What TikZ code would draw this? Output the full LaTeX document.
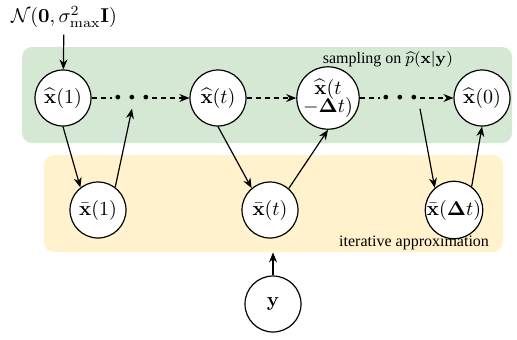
\documentclass[tikz,border=0pt]{standalone}
\usepackage[no-math]{fontspec}
\setmainfont{Liberation Serif}
\usepackage{amsmath}
\usetikzlibrary{shapes, arrows.meta, fit}
\definecolor{samplegreen}{HTML}{D5E8D4}
\definecolor{approxyellow}{HTML}{FFF2CC}

\begin{document}
\begin{tikzpicture}[
				x=0.5pt, y=-0.5pt,
				var/.style={circle, draw, semithick, fill=white, minimum size=28pt, inner sep=0pt, align=center},
				region/.style={rounded corners=5pt, inner sep=0pt},
				flow/.style={-{Stealth[length=5pt,width=4pt]}, semithick},
				walk/.style={dash pattern=on 2.5pt off 2pt, semithick},
				dots/.style={inner xsep=1pt, inner ysep=4pt, font=\Large\bfseries},
				tag/.style={font=\footnotesize, anchor=east}
				]
				\useasboundingbox (0,0) rectangle (517,339);
				
				% background regions
				\node[region, fill=samplegreen, fit={(22,47) (512,143)}] (sampling) {};
				\node[region, fill=approxyellow, fit={(44,155) (503,252)}] (approx) {};
				\node[tag] (samplelabel) at (460,59) {sampling on $\widehat{p}(\mathbf{x}|\mathbf{y})$};
				\node[tag] (approxlabel) at (496,243) {iterative approximation};
				
				% sampling chain
				\node (prior) at (64,17) {$\mathcal{N}(\mathbf{0},\sigma^2_{\max}\mathbf{I})$};
				\node[var] (x1) at (63,98) {$\widehat{\mathbf{x}}(1)$};
				\node[dots] (d1) at (132,98) {.\hspace{3.4pt}.\hspace{3.4pt}.};
				\node[var] (xt) at (218,98) {$\widehat{\mathbf{x}}(t)$};
				\node[var] (xtd) at (328,98) {$\widehat{\mathbf{x}}(t$\\[-3pt]$-\mathbf{\Delta} t)$};
				\node[dots] (d2) at (400,98) {.\hspace{3.4pt}.\hspace{3.4pt}.};
				\node[var] (x0) at (482,98) {$\widehat{\mathbf{x}}(0)$};
				
				% approximations
				\node[var] (xb1) at (98,210) {$\bar{\mathbf{x}}(1)$};
				\node[var] (xbt) at (270,210) {$\bar{\mathbf{x}}(t)$};
				\node[var] (xbd) at (454,210) {$\bar{\mathbf{x}}(\mathbf{\Delta} t)$};
				\node[var] (y) at (273,304) {$\mathbf{y}$};
				
				\draw[flow] (prior) -- (x1);
				\draw[walk] (x1) -- (d1);
				\draw[flow, walk] (d1) -- (xt);
				\draw[flow, walk] (xt) -- (xtd);
				\draw[walk] (xtd) -- (d2);
				\draw[flow, walk] (d2) -- (x0);
				
				\draw[flow] (x1.south) -- (xb1.128);
				\draw[flow] (xb1.53) -- (d1.south);
				\draw[flow] (xt.south) -- (xbt.130);
				\draw[flow] (xbt.49) -- (xtd.south);
				\draw[flow] (d2.south east) -- (xbd.131);
				\draw[flow] (xbd.53) -- (x0.south);
				\draw[flow] (y) -- (y |- approx.south);
				\end{tikzpicture}
\end{document}
